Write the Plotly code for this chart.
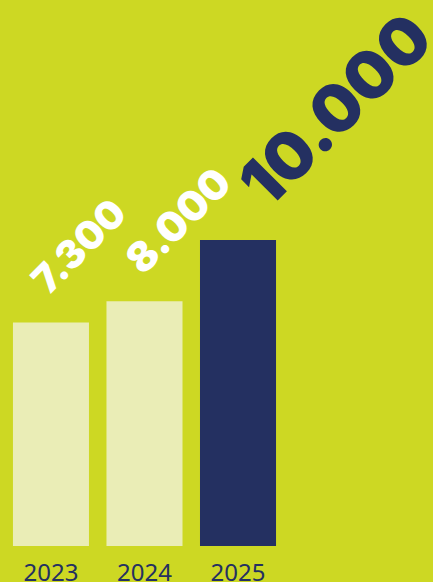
import plotly.graph_objects as go

# Data
years = ["2023", "2024", "2025"]
values = [7300, 8000, 10000]
value_labels = ["7.300", "8.000", "10.000"]

BG = "#CDD823"
CREAM = "#EAEDB6"
NAVY = "#243061"

bar_colors = [CREAM, CREAM, NAVY]
label_colors = ["white", "white", NAVY]
label_sizes = [39, 41, 66]
label_xshift = [-32, -32, -18]
label_yshift = [17, 15, 16]

fig = go.Figure(
    go.Bar(
        x=list(range(len(years))),
        y=values,
        marker=dict(color=bar_colors, line=dict(width=0)),
        width=0.813,
        hoverinfo="skip",
    )
)

for i, (v, txt) in enumerate(zip(values, value_labels)):
    fig.add_annotation(
        x=i, y=v, xref="x", yref="y",
        text=txt,
        showarrow=False,
        textangle=-45,
        xanchor="left", yanchor="bottom",
        xshift=label_xshift[i], yshift=label_yshift[i],
        font=dict(family="Inter", size=label_sizes[i], color=label_colors[i], weight=900),
    )

fig.update_layout(
    width=433, height=582,
    margin=dict(l=0, r=0, t=0, b=36, autoexpand=False),
    paper_bgcolor=BG, plot_bgcolor=BG,
    showlegend=False,
    xaxis=dict(
        range=[-0.545, 4.085],
        tickmode="array",
        tickvals=list(range(len(years))),
        ticktext=years,
        tickfont=dict(family="Noto Sans", size=24, color=NAVY),
        ticklabelstandoff=10,
        automargin=False,
        showgrid=False, zeroline=False, showline=False, ticks="",
        fixedrange=True,
    ),
    yaxis=dict(
        range=[0, 17843],
        visible=False,
        automargin=False,
        fixedrange=True,
    ),
)

fig.write_html("out.html", config={"displayModeBar": False})
